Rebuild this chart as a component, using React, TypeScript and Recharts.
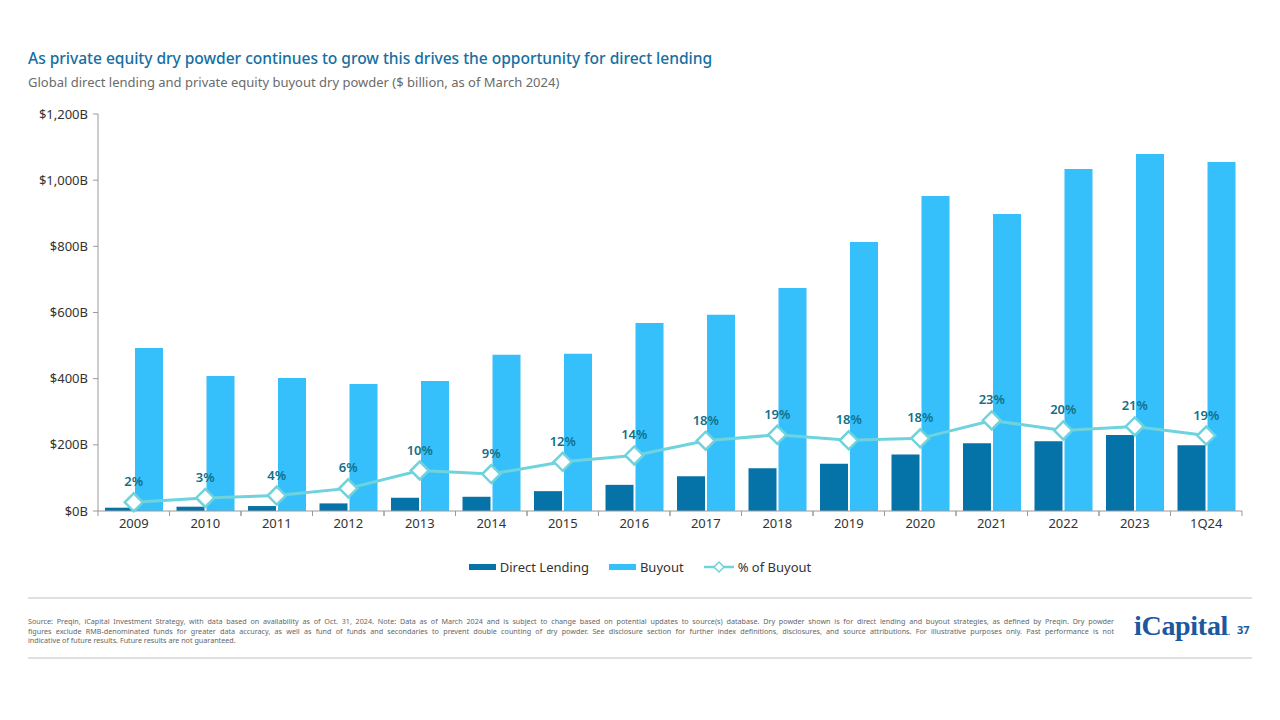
import {
  Bar,
  ComposedChart,
  LabelList,
  Line,
  XAxis,
  YAxis,
} from "recharts";

const years = [
  "2009", "2010", "2011", "2012", "2013", "2014", "2015", "2016",
  "2017", "2018", "2019", "2020", "2021", "2022", "2023", "1Q24",
];
// $ billion
const directLending = [10, 13, 15, 23, 40, 43, 60, 79, 105, 129, 143, 171, 205, 211, 230, 199];
const buyout = [493, 408, 402, 384, 393, 472, 475, 568, 593, 674, 813, 952, 898, 1034, 1079, 1055];
// direct lending as % of buyout
const pctOfBuyout = [2.2, 3.3, 3.9, 5.7, 10.2, 9.3, 12.4, 14.0, 17.7, 19.2, 17.8, 18.3, 22.8, 20.3, 21.3, 19.0];
const yTicks = [0, 200, 400, 600, 800, 1000, 1200];

const data = years.map((year, i) => ({
  year,
  dl: directLending[i],
  buyout: buyout[i],
  pct: pctOfBuyout[i],
}));

const DL_COLOR = "#0673a8";
const BUYOUT_COLOR = "#35c0fc";
const LINE_COLOR = "#6ed3dc";
const LABEL_COLOR = "#137089";
const AXIS_COLOR = "#9a9a9a";
const FONT = "'Noto Sans', sans-serif";

function YearTick(props: any) {
  const { x, y, payload } = props;
  const half = payload?.offset ?? 35.7;
  return (
    <g>
      <line x1={x - half} x2={x - half} y1={y - 8} y2={y - 3} stroke={AXIS_COLOR} />
      <line x1={x + half} x2={x + half} y1={y - 8} y2={y - 3} stroke={AXIS_COLOR} />
      <text x={x} y={y} dy="0.71em" textAnchor="middle" fill="#333" fontSize={13} fontFamily={FONT}>
        {payload.value}
      </text>
    </g>
  );
}

function Diamond(props: any) {
  const { cx, cy } = props;
  if (cx == null || cy == null) return null;
  const r = 9;
  return (
    <path
      d={`M${cx} ${cy - r} L${cx + r} ${cy} L${cx} ${cy + r} L${cx - r} ${cy} Z`}
      fill="#fff"
      stroke={LINE_COLOR}
      strokeWidth={2.5}
    />
  );
}

function LegendRow() {
  const item = { display: "flex", alignItems: "center", gap: 4 } as const;
  return (
    <div
      style={{
        position: "absolute",
        top: 558,
        left: 0,
        width: 1280,
        display: "flex",
        justifyContent: "center",
        gap: 20,
        fontSize: 13,
        color: "#333",
        fontFamily: FONT,
      }}
    >
      <div style={item}>
        <span style={{ width: 27, height: 6, background: DL_COLOR }} />
        Direct Lending
      </div>
      <div style={item}>
        <span style={{ width: 27, height: 6, background: BUYOUT_COLOR }} />
        Buyout
      </div>
      <div style={item}>
        <svg width={30} height={14}>
          <line x1={0} x2={30} y1={7} y2={7} stroke={LINE_COLOR} strokeWidth={2.5} />
          <path d="M15 2 L20 7 L15 12 L10 7 Z" fill="#fff" stroke={LINE_COLOR} strokeWidth={1.5} />
        </svg>
        % of Buyout
      </div>
    </div>
  );
}

const footLines = [
  "Source: Preqin, iCapital Investment Strategy, with data based on availability as of Oct. 31, 2024. Note: Data as of March 2024 and is subject to change based on potential updates to source(s) database. Dry powder shown is for direct lending and buyout strategies, as defined by Preqin. Dry powder",
  "figures exclude RMB-denominated funds for greater data accuracy, as well as fund of funds and secondaries to prevent double counting of dry powder. See disclosure section for further index definitions, disclosures, and source attributions. For illustrative purposes only. Past performance is not",
  "indicative of future results. Future results are not guaranteed.",
];

export default function App() {
  return (
    <div
      style={{
        position: "absolute",
        left: 0,
        top: 0,
        width: 1280,
        height: 720,
        background: "#fff",
        fontFamily: FONT,
        overflow: "hidden",
      }}
    >
      <div
        style={{
          position: "absolute",
          left: 28,
          top: 47,
          fontSize: 15.6,
          fontWeight: 500,
          color: "#166fa2",
          whiteSpace: "nowrap",
          letterSpacing: -0.05,
        }}
      >
        As private equity dry powder continues to grow this drives the opportunity for direct lending
      </div>
      <div style={{ position: "absolute", left: 28, top: 73, fontSize: 13, color: "#6b6b6b", whiteSpace: "nowrap" }}>
        Global direct lending and private equity buyout dry powder ($ billion, as of March 2024)
      </div>

      <div style={{ position: "absolute", left: 0, top: 100 }}>
        <ComposedChart
          width={1280}
          height={440}
          data={data}
          margin={{ top: 14, right: 38, left: 0, bottom: 0 }}
          barGap={2}
          barSize={28}
        >
          <XAxis
            dataKey="year"
            height={29}
            tickLine={false}
            axisLine={{ stroke: AXIS_COLOR }}
            tick={<YearTick />}
            interval={0}
          />
          <YAxis
            yAxisId="bn"
            width={98}
            domain={[0, 1200]}
            ticks={yTicks}
            tickFormatter={(v: number) => `$${v.toLocaleString("en-US")}B`}
            axisLine={{ stroke: AXIS_COLOR }}
            tickLine={{ stroke: AXIS_COLOR }}
            tickSize={5}
            tickMargin={5}
            tick={{ fill: "#333", fontSize: 13, fontFamily: FONT }}
          />
          <YAxis yAxisId="pct" orientation="right" hide domain={[0, 100]} />
          <Bar yAxisId="bn" dataKey="dl" fill={DL_COLOR} isAnimationActive={false} />
          <Bar yAxisId="bn" dataKey="buyout" fill={BUYOUT_COLOR} isAnimationActive={false} />
          <Line
            yAxisId="pct"
            dataKey="pct"
            stroke={LINE_COLOR}
            strokeWidth={3}
            dot={<Diamond />}
            activeDot={false}
            isAnimationActive={false}
          >
            <LabelList
              dataKey="pct"
              position="top"
              offset={16}
              formatter={(v: any) => `${Math.round(Number(v))}%`}
              fill={LABEL_COLOR}
              fontSize={13}
              fontWeight={600}
              fontFamily={FONT}
            />
          </Line>
        </ComposedChart>
      </div>

      <LegendRow />

      <div style={{ position: "absolute", left: 28, top: 597, width: 1224, height: 2, background: "#dde1e5" }} />
      <div style={{ position: "absolute", left: 28, top: 617, width: 1086, fontSize: 7.2, lineHeight: "9.5px", color: "#666" }}>
        {footLines.map((line, i) => (
          <div
            key={i}
            style={{
              whiteSpace: "nowrap",
              textAlign: "justify",
              textAlignLast: i < 2 ? "justify" : "left",
            }}
          >
            {line}
          </div>
        ))}
      </div>
      <div
        style={{
          position: "absolute",
          left: 1134,
          top: 610,
          fontSize: 28,
          fontWeight: 700,
          color: "#1d57a0",
          fontFamily: "'Liberation Serif', 'DejaVu Serif', serif",
          letterSpacing: -0.3,
        }}
      >
        iCapital<span style={{ fontSize: 8 }}>.</span>
      </div>
      <div style={{ position: "absolute", left: 1237, top: 622, fontSize: 11, fontWeight: 700, color: "#1d57a0" }}>
        37
      </div>
      <div style={{ position: "absolute", left: 28, top: 657, width: 1224, height: 2, background: "#dde1e5" }} />
    </div>
  );
}
